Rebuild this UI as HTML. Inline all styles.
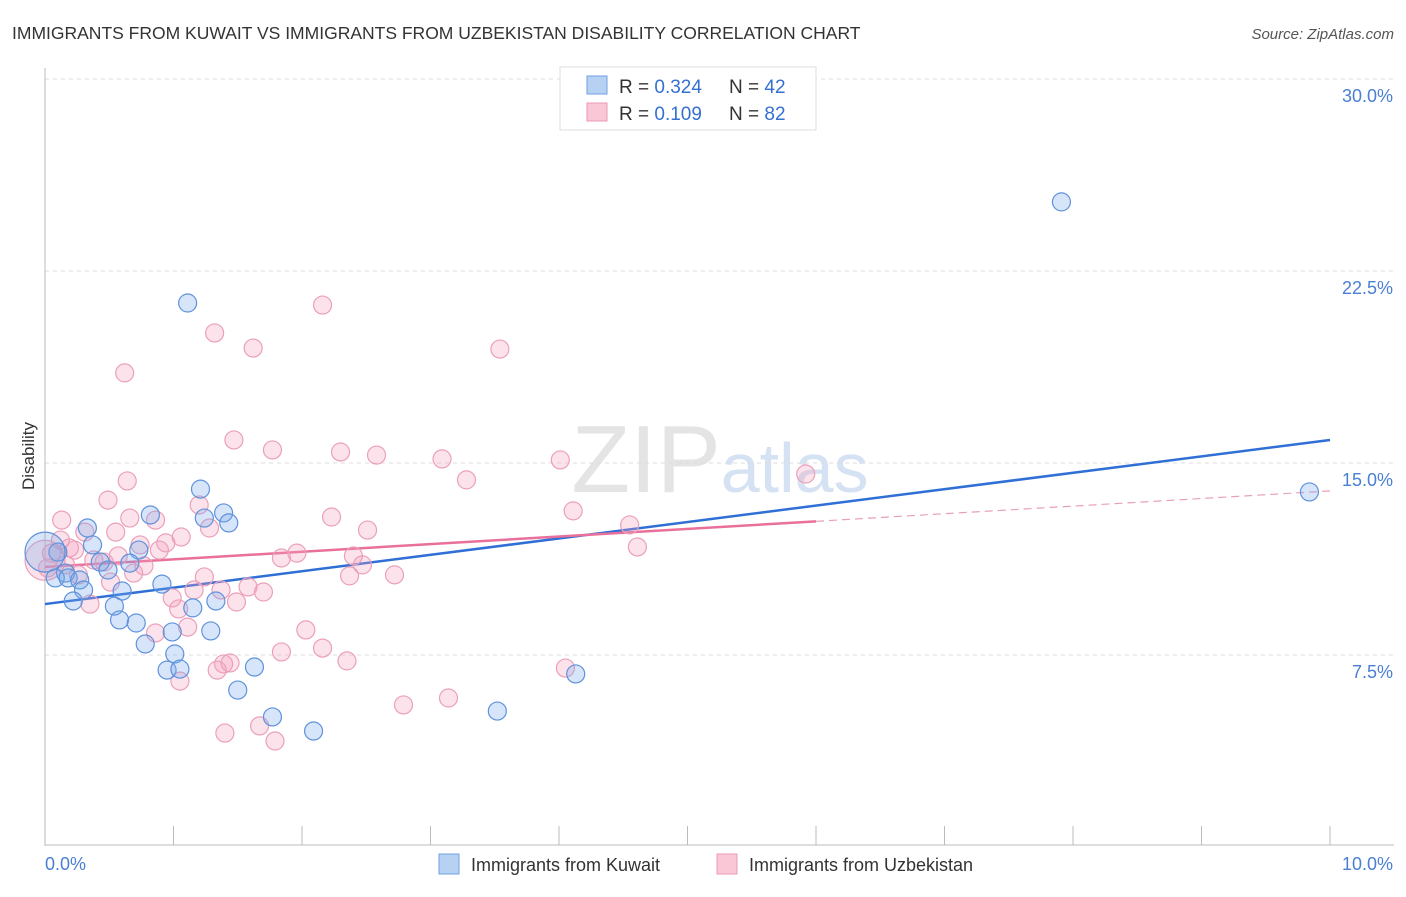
<!DOCTYPE html>
<html><head><meta charset="utf-8"><style>
body{margin:0;background:#fff;font-family:"Liberation Sans",sans-serif;}
svg text{font-family:"Liberation Sans",sans-serif;}
</style></head><body>
<svg id="chart" width="1406" height="892">
<text x="12" y="39" font-size="17.5" fill="#333">IMMIGRANTS FROM KUWAIT VS IMMIGRANTS FROM UZBEKISTAN DISABILITY CORRELATION CHART</text>
<text x="1394" y="39" font-size="15" fill="#555" font-style="italic" text-anchor="end">Source: ZipAtlas.com</text>
<text x="34" y="456" font-size="17" fill="#333" text-anchor="middle" transform="rotate(-90 34 456)">Disability</text>
<text x="720" y="492" font-size="96" fill="#e4e4e4" text-anchor="middle" font-family="Liberation Serif">ZIP<tspan font-family="Liberation Sans" font-size="70" fill="#d5e2f3">atlas</tspan></text>
<g id="grid"></g><g id="axes"></g><g id="lines"></g><g id="pts"></g>
<g>
<rect x="560" y="67" width="256" height="63" fill="#fff" stroke="#ddd"/>
<rect x="587" y="76" width="20" height="18" fill="#b7d1f3" stroke="#6f9fe0"/>
<rect x="587" y="103" width="20" height="18" fill="#f9c7d6" stroke="#e99ab4"/>
<text x="619" y="93" font-size="19" fill="#333">R = <tspan fill="#3570d0">0.324</tspan><tspan x="729">N = </tspan><tspan fill="#3570d0">42</tspan></text>
<text x="619" y="120" font-size="19" fill="#333">R = <tspan fill="#3570d0">0.109</tspan><tspan x="729">N = </tspan><tspan fill="#3570d0">82</tspan></text>
</g>
<g>
<rect x="439" y="854" width="20" height="20" fill="#b7d1f3" stroke="#6f9fe0"/>
<text x="471" y="871" font-size="18" fill="#333">Immigrants from Kuwait</text>
<rect x="717" y="854" width="20" height="20" fill="#f9c7d6" stroke="#e99ab4"/>
<text x="749" y="871" font-size="18" fill="#333">Immigrants from Uzbekistan</text>
</g>
</svg>
<script>
const yTicks=[7.5,15,22.5,30];
const yTickLabels=["7.5%","15.0%","22.5%","30.0%"];
const xTickVals=[0,1,2,3,4,5,6,7,8,9,10];
const xEndLabels=["0.0%","10.0%"];
const kuwaitX=[7.91,9.84,1.11,1.21,1.39,0.82,1.24,1.43,0.33,0.37,0.73,0.10,0.43,0.66,0.49,0.16,0.08,0.18,0.27,0.91,0.30,0.60,0.22,1.33,0.54,1.15,0.58,0.71,0.99,1.29,0.78,1.01,0.95,1.05,1.63,1.50,4.13,1.77,3.52,2.09,0.0];
const kuwaitY=[25.20,13.87,21.25,13.98,13.05,12.97,12.85,12.66,12.46,11.80,11.60,11.52,11.13,11.09,10.82,10.70,10.51,10.51,10.43,10.27,10.04,10.00,9.61,9.61,9.41,9.34,8.87,8.75,8.40,8.44,7.93,7.54,6.91,6.95,7.03,6.13,6.76,5.08,5.31,4.53,11.52];
const uzbX=[2.16,1.32,1.62,3.54,0.62,1.47,1.77,2.30,2.58,3.09,4.01,5.92,3.28,0.64,0.49,0.13,4.11,1.20,2.23,4.55,0.86,0.66,1.28,2.51,0.55,1.06,0.31,4.61,0.94,0.23,0.05,0.74,1.96,0.57,2.40,1.84,0.89,0.38,0.46,2.47,0.77,0.02,0.69,2.37,1.24,2.72,0.26,1.58,0.51,1.70,1.37,0.99,1.16,1.49,0.35,1.04,1.11,0.86,2.03,2.16,2.35,1.84,1.39,1.44,1.34,4.05,1.05,3.14,2.79,1.67,1.40,1.79,0.19,0.12,0.16,0.0];
const uzbY=[21.17,20.08,19.49,19.45,18.52,15.90,15.51,15.43,15.31,15.16,15.12,14.57,14.34,14.30,13.55,12.77,13.13,13.36,12.89,12.58,12.77,12.85,12.46,12.38,12.30,12.11,12.30,11.72,11.88,11.60,11.48,11.80,11.48,11.37,11.37,11.29,11.60,11.21,11.13,11.02,10.98,10.90,10.70,10.59,10.55,10.63,10.63,10.16,10.35,9.96,10.04,9.73,10.04,9.57,9.49,9.30,8.59,8.36,8.48,7.77,7.27,7.62,7.15,7.19,6.91,6.99,6.48,5.82,5.55,4.73,4.45,4.14,11.68,11.99,11.02,11.2];
const kuwaitTrend=[9.49,15.90];
const uzbTrend=[10.94,13.91];
const uzbSolidEnd=6.0;
const X=v=>45+v*128.5, Y=v=>847-v*25.6;
const NS="http://www.w3.org/2000/svg";
function mk(tag,attrs,parent){const e=document.createElementNS(NS,tag);for(const k in attrs)e.setAttribute(k,attrs[k]);document.getElementById(parent).appendChild(e);return e;}
yTicks.forEach((t,i)=>{
 const l=mk('line',{x1:45,x2:1394,y1:Y(t),y2:Y(t),stroke:'#ddd','stroke-dasharray':'4,4'},'grid');
 
 
 const tx=mk('text',{x:1393,y:Y(t)+23,'text-anchor':'end','font-size':18,fill:'#4a7fd4'},'grid');
 tx.textContent=yTickLabels[i];
 
 
});
const ax=mk('line',{x1:45,x2:45,y1:68,y2:846,stroke:'#bbb'},'axes');


const bx=mk('line',{x1:45,x2:1394,y1:845,y2:845,stroke:'#bbb'},'axes');


xTickVals.forEach(v=>{
 const t=mk('line',{x1:X(v),x2:X(v),y1:826,y2:845,stroke:'#bbb'},'axes');
 
 
});
const xl0=mk('text',{x:45,y:870,'font-size':18,fill:'#4a7fd4'},'axes');xl0.textContent=xEndLabels[0];


const xl1=mk('text',{x:1393,y:870,'font-size':18,fill:'#4a7fd4','text-anchor':'end'},'axes');xl1.textContent=xEndLabels[1];


function pts(xs,ys,fill,stroke,name){xs.forEach((x,i)=>{
 const big=(x===0);
 const c=mk('circle',{cx:X(x),cy:Y(ys[i]),r:big?20:9,fill:fill,stroke:stroke,'stroke-width':1.2},'pts');
 
 
});}
pts(uzbX,uzbY,'rgba(244,160,188,0.3)','#eba0b9','uzbekistan-point');
pts(kuwaitX,kuwaitY,'rgba(120,170,235,0.3)','#5f92dc','kuwait-point');
const uy=v=>uzbTrend[0]+(uzbTrend[1]-uzbTrend[0])*v/10;
const l1=mk('line',{x1:X(0),y1:Y(kuwaitTrend[0]),x2:X(10),y2:Y(kuwaitTrend[1]),stroke:'#2f6fd6','stroke-width':2.5},'lines');


const l2=mk('line',{x1:X(0),y1:Y(uy(0)),x2:X(uzbSolidEnd),y2:Y(uy(uzbSolidEnd)),stroke:'#e8709a','stroke-width':2.5},'lines');


const l3=mk('line',{x1:X(uzbSolidEnd),y1:Y(uy(uzbSolidEnd)),x2:X(10),y2:Y(uy(10)),stroke:'#e8a0b8','stroke-width':1.2,'stroke-dasharray':'8,5'},'lines');


</script>
</body></html>
